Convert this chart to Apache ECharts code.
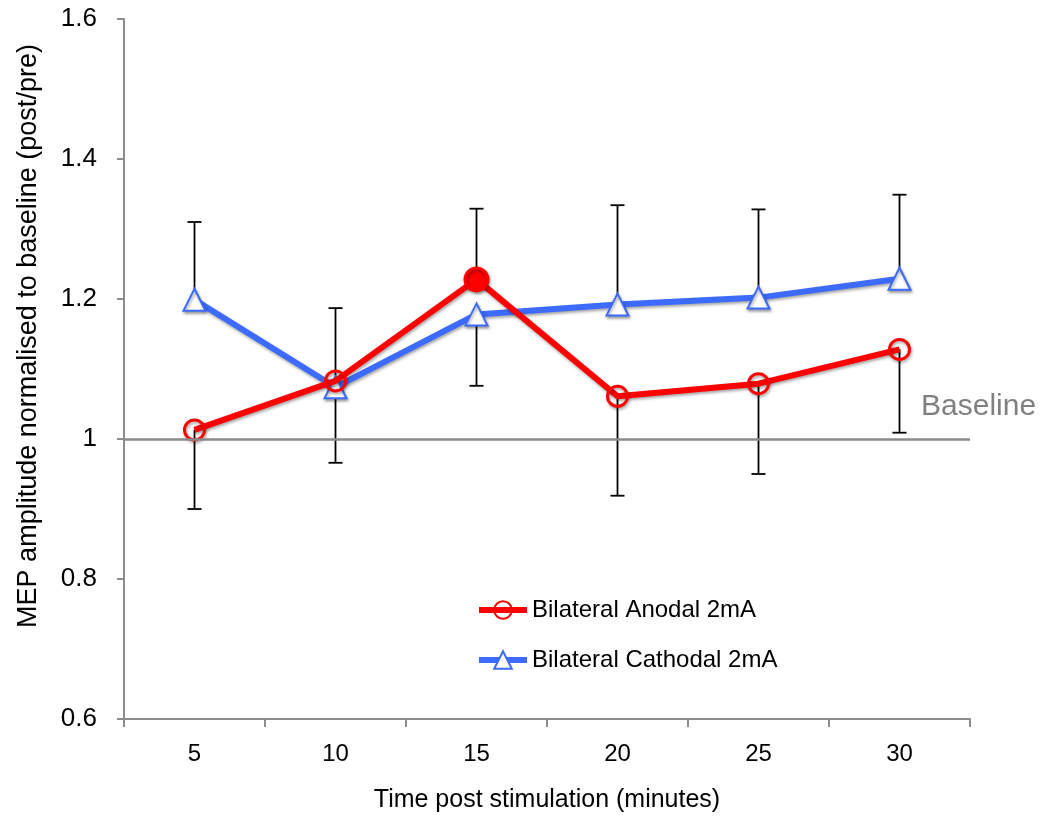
<!DOCTYPE html>
<html>
<head>
<meta charset="utf-8">
<script src="https://cdn.jsdelivr.net/npm/echarts@6/dist/echarts.min.js"></script>
<style>
  html, body { margin: 0; padding: 0; background: #ffffff; }
  #chart { width: 1046px; height: 820px; }
</style>
</head>
<body>
<div id="chart"></div>
<script>
// Minutes after stimulation
const categories = ['5', '10', '15', '20', '25', '30'];

// MEP amplitude (post/pre) and its error for each montage
const anodal = [1.013, 1.083, 1.228, 1.061, 1.079, 1.128];
const anodalErr = [0.113, 0.104, 0.101, 0.142, 0.129, 0.119];
const cathodal = [1.199, 1.074, 1.178, 1.192, 1.202, 1.229];
const cathodalErr = [0.111, 0.108, 0.102, 0.142, 0.126, 0.120];

// Index of the anodal point drawn as a filled dot
const highlightIndex = 2;

const baselineValue = 1;
const yTicks = { min: 0.6, max: 1.6, interval: 0.2 };

const RED = '#ff0000';
const BLUE = '#3d6bff';
const AXIS_GREY = '#8c8c8c';
const FONT = "'Liberation Sans', Arial, sans-serif";

// Each series shows its error bar on the side facing away from the other series
function errorBars(values, errs, others) {
  return values.map((v, i) => {
    const up = v >= others[i];
    return up ? [i, v, v + errs[i], 1] : [i, v - errs[i], v, -1];
  });
}
const errData = errorBars(anodal, anodalErr, cathodal)
  .concat(errorBars(cathodal, cathodalErr, anodal));

const chart = echarts.init(document.getElementById('chart'), null, { renderer: 'canvas' });

const shadow = {
  shadowColor: 'rgba(0,0,0,0.35)',
  shadowBlur: 3,
  shadowOffsetX: 1,
  shadowOffsetY: 2
};

chart.setOption({
  animation: false,
  backgroundColor: '#ffffff',
  grid: { left: 124, right: 76, top: 19, bottom: 101 },
  legend: {
    orient: 'vertical',
    left: 476,
    top: 598,
    padding: 0,
    itemWidth: 48,
    itemHeight: 22,
    itemGap: 26,
    lineStyle: { width: 6 },
    textStyle: { fontFamily: FONT, fontSize: 24, color: '#000' },
    data: ['Bilateral Anodal 2mA', 'Bilateral Cathodal 2mA']
  },
  xAxis: {
    type: 'category',
    data: categories,
    boundaryGap: true,
    name: 'Time post stimulation (minutes)',
    nameLocation: 'middle',
    nameGap: 69,
    nameTextStyle: { fontFamily: FONT, fontSize: 25, color: '#000' },
    axisLine: { lineStyle: { color: AXIS_GREY, width: 2 } },
    axisTick: { show: true, length: 8, lineStyle: { color: AXIS_GREY, width: 2 } },
    axisLabel: { margin: 23, fontFamily: FONT, fontSize: 24, color: '#000' },
    splitLine: { show: false }
  },
  yAxis: {
    type: 'value',
    min: yTicks.min,
    max: yTicks.max,
    interval: yTicks.interval,
    name: 'MEP amplitude normalised to baseline (post/pre)',
    nameLocation: 'middle',
    nameGap: 82,
    nameTextStyle: { fontFamily: FONT, fontSize: 27, color: '#000', padding: [0, 0, 0, 66] },
    axisLine: { show: true, lineStyle: { color: AXIS_GREY, width: 2 } },
    axisTick: { show: true, length: 7, lineStyle: { color: AXIS_GREY, width: 2 } },
    axisLabel: { margin: 27, fontFamily: FONT, fontSize: 26, color: '#000' },
    splitLine: { show: false }
  },
  series: [
    {
      name: 'error bars',
      type: 'custom',
      z: 1,
      silent: true,
      data: errData,
      renderItem: function (params, api) {
        const i = api.value(0);
        const lo = api.coord([i, api.value(1)]);
        const hi = api.coord([i, api.value(2)]);
        const dir = api.value(3);
        const capY = dir > 0 ? hi[1] : lo[1];
        const half = 7;
        const style = { stroke: '#000', lineWidth: 1.8 };
        return {
          type: 'group',
          children: [
            { type: 'line', shape: { x1: lo[0], y1: lo[1], x2: hi[0], y2: hi[1] }, style: style },
            { type: 'line', shape: { x1: lo[0] - half, y1: capY, x2: lo[0] + half, y2: capY }, style: style }
          ]
        };
      }
    },
    {
      name: 'Bilateral Anodal 2mA',
      type: 'line',
      z: 3,
      data: anodal.map((v, i) => i === highlightIndex
        ? { value: v, symbolSize: 23, itemStyle: { color: RED, borderColor: RED } }
        : v),
      symbol: 'circle',
      symbolSize: 20,
      color: RED,
      lineStyle: Object.assign({ color: RED, width: 6 }, shadow),
      itemStyle: Object.assign({ color: 'rgba(255,255,255,0)', borderColor: RED, borderWidth: 3 }, shadow),
      markLine: {
        silent: true,
        symbol: 'none',
        label: { show: false },
        lineStyle: { color: '#8a8a8a', width: 2.5, type: 'solid', shadowBlur: 0 },
        data: [{ yAxis: baselineValue }]
      }
    },
    {
      name: 'Bilateral Cathodal 2mA',
      type: 'line',
      z: 2,
      data: cathodal,
      symbol: 'emptyTriangle',
      symbolSize: 22,
      color: BLUE,
      lineStyle: Object.assign({ color: BLUE, width: 6 }, shadow),
      itemStyle: Object.assign({ color: BLUE, borderColor: BLUE, borderWidth: 3.5 }, shadow)
    }
  ]
});

// "Baseline" caption sits just above the right end of the baseline
const basePx = chart.convertToPixel({ yAxisIndex: 0 }, baselineValue);
chart.setOption({
  graphic: [{
    type: 'text',
    left: 921,
    top: basePx - 47,
    style: { text: 'Baseline', fontFamily: FONT, fontSize: 30, fill: '#808080' }
  }]
});
</script>
</body>
</html>
